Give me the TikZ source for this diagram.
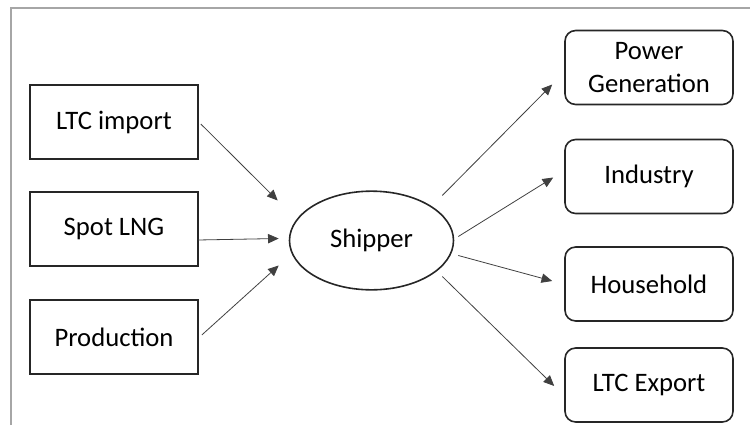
\documentclass[tikz,border=0pt]{standalone}
\usepackage{fontspec}
\setmainfont{Carlito}
\usetikzlibrary{shapes.geometric,arrows.meta}
\begin{document}
\begin{tikzpicture}[x=0.75pt,y=-0.75pt,
  srcbox/.style={draw=black!85,line width=1.2pt,minimum width=126pt,minimum height=55.5pt,inner sep=0pt,font=\fontsize{20}{22}\selectfont},
  dstbox/.style={draw=black!85,line width=1.2pt,rounded corners=8pt,minimum width=126pt,minimum height=55.5pt,inner sep=0pt,align=center,font=\fontsize{20}{24.5}\selectfont},
  hub/.style={ellipse,draw=black!85,line width=1.2pt,minimum width=123pt,minimum height=74pt,inner sep=0pt,font=\fontsize{20}{22}\selectfont},
  flow/.style={draw=black!75,line width=0.6pt,-{Triangle[length=8pt,width=7pt]}},
  frame/.style={draw=black!35,line width=1.5pt}]
\useasboundingbox (0,0) rectangle (750,425);
\draw[frame] (11,425) -- (11,7.5) -- (750,7.5);
\node[srcbox] (ltc) at (114,122) {LTC import};
\node[srcbox] (spot) at (114,229) {Spot LNG};
\node[srcbox] (prod) at (114,337) {Production};
\node[hub] (ship) at (371.5,240.5) {Shipper};
\node[dstbox] (pow) at (649,67.5) {Power\\Generation};
\node[dstbox] (ind) at (649,176.5) {Industry};
\node[dstbox] (hh) at (649,284) {Household};
\node[dstbox] (exp) at (649,385) {LTC Export};
\draw[flow] ([shift={(2,2)}]ltc.east) -- ([shift={(-11,-40)}]ship.west);
\draw[flow] ([shift={(-1,11)}]spot.east) -- ([shift={(-10,-2)}]ship.west);
\draw[flow] ([shift={(3,-2)}]prod.east) -- ([shift={(-10,25)}]ship.west);
\draw[flow] ([shift={(-12,-45)}]ship.east) -- ([shift={(-12,17)}]pow.west);
\draw[flow] ([shift={(4,-4)}]ship.east) -- ([shift={(-11,1)}]ind.west);
\draw[flow] ([shift={(4,15)}]ship.east) -- ([shift={(-12,-3)}]hh.west);
\draw[flow] ([shift={(-12,36)}]ship.east) -- ([shift={(-10,1)}]exp.west);
\end{tikzpicture}
\end{document}
